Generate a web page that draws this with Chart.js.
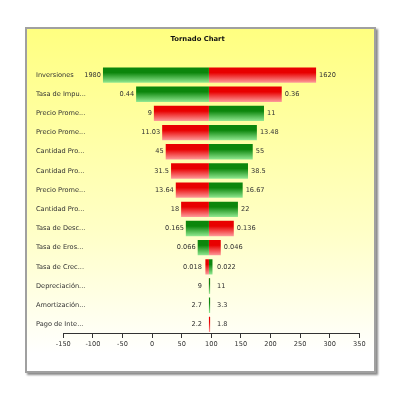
<!DOCTYPE html>
<html>
<head>
<meta charset="utf-8">
<script src="https://cdn.jsdelivr.net/npm/chart.js@4"></script>
<style>
  body { margin: 0; background: #fff; }
  #panel {
    position: absolute; left: 25px; top: 27px;
    width: 347px; height: 342px;
    border: 2px solid #a0a0a0;
    box-shadow: 2px 2px 2px #8a8a8a;
    background: linear-gradient(#ffff80 0%, #ffffc8 60%, #ffffff 95%);
  }
  canvas { display: block; }
</style>
</head>
<body>
<div id="panel"><canvas id="tornado" width="347" height="342"></canvas></div>
<script>
// Tornado chart data
const categories = ['Inversiones', 'Tasa de Impu...', 'Precio Prome...', 'Precio Prome...',
    'Cantidad Pro...', 'Cantidad Pro...', 'Precio Prome...', 'Cantidad Pro...',
    'Tasa de Desc...', 'Tasa de Eros...', 'Tasa de Crec...', 'Depreciación...',
    'Amortización...', 'Pago de Inte...'];
const leftLabels = ['1980', '0.44', '9', '11.03', '45', '31.5', '13.64', '18',
    '0.165', '0.066', '0.018', '9', '2.7', '2.2'];
const rightLabels = ['1620', '0.36', '11', '13.48', '55', '38.5', '16.67', '22',
    '0.136', '0.046', '0.022', '11', '3.3', '1.8'];
const baseValue = 96;
const greenEnds = [-83, -27, 189, 177, 170, 162, 153, 145, 57, 77, 102, 98, 98, 96];
const redEnds = [277, 219, 3, 17, 23, 32, 40, 49, 138, 116, 90, 97.5, 96, 98];
const xTicks = { min: -150, max: 350, step: 50 };

const FONT = '"DejaVu Sans", Verdana, sans-serif';
const yAxisWidth = 27.3;

document.addEventListener('DOMContentLoaded', function() {
    // vertical gradient for each bar, worked out from the row centre
    function barFill(top, bottom) {
        return function(ctx) {
            const chart = ctx.chart;
            const yScale = chart.scales.y;
            if (!yScale || ctx.dataIndex === undefined) return top;
            const c = yScale.getPixelForValue(ctx.dataIndex);
            if (!isFinite(c)) return top;
            const g = chart.ctx.createLinearGradient(0, c - 8, 0, c + 8);
            g.addColorStop(0, top);
            g.addColorStop(0.35, top);
            g.addColorStop(1, bottom);
            return g;
        };
    }

    const valueLabels = {
        id: 'valueLabels',
        afterDatasetsDraw(chart) {
            const ctx = chart.ctx;
            const center = chart.scales.x.getPixelForValue(baseValue);
            const m0 = chart.getDatasetMeta(0).data;
            const m1 = chart.getDatasetMeta(1).data;
            ctx.save();
            ctx.font = '6.6px ' + FONT;
            ctx.fillStyle = '#333';
            ctx.textBaseline = 'middle';
            categories.forEach((c, i) => {
                const a = m0[i], b = m1[i];
                const left = Math.min(a.x, a.base, b.x, b.base);
                const right = Math.max(a.x, a.base, b.x, b.base);
                ctx.textAlign = 'right';
                ctx.fillText(leftLabels[i], Math.min(left, center - 5) - 2, a.y);
                ctx.textAlign = 'left';
                ctx.fillText(rightLabels[i], Math.max(right, center + 5) + 3, a.y);
            });
            ctx.restore();
        }
    };

    new Chart(document.getElementById('tornado'), {
        type: 'bar',
        data: {
            labels: categories,
            datasets: [{
                label: 'Alto',
                data: greenEnds.map(v => [baseValue, v]),
                backgroundColor: barFill('#0c860c', '#96ec96'),
                grouped: false,
                borderWidth: 0,
                borderSkipped: false
            }, {
                label: 'Bajo',
                data: redEnds.map(v => [baseValue, v]),
                backgroundColor: barFill('#e80000', '#ffa0a0'),
                grouped: false,
                borderWidth: 0,
                borderSkipped: false
            }]
        },
        options: {
            indexAxis: 'y',
            responsive: false,
            animation: false,
            layout: { padding: { left: 9, right: 14.7, top: 0, bottom: 0 } },
            datasets: { bar: { categoryPercentage: 1, barPercentage: 0.8 } },
            plugins: {
                legend: { display: false },
                tooltip: { enabled: false },
                title: {
                    display: true,
                    text: 'Tornado Chart',
                    color: '#111',
                    font: { family: FONT, size: 6.8, weight: 'bold' },
                    padding: { top: 6, bottom: 22.3 }
                }
            },
            scales: {
                x: {
                    min: xTicks.min,
                    max: xTicks.max,
                    grid: { display: true, drawOnChartArea: false, drawTicks: true, tickLength: 4, color: '#333' },
                    border: { display: true, color: '#333', width: 1 },
                    ticks: {
                        stepSize: xTicks.step,
                        color: '#333',
                        padding: 2,
                        font: { family: FONT, size: 6.6 }
                    },
                    afterFit: function(scale) { scale.height = 37; }
                },
                y: {
                    grid: { display: false },
                    border: { display: false },
                    ticks: {
                        mirror: true,
                        crossAlign: 'near',
                        padding: -yAxisWidth,
                        color: '#333',
                        autoSkip: false,
                        font: { family: FONT, size: 6.6 }
                    },
                    afterFit: function(scale) { scale.width = yAxisWidth; }
                }
            }
        },
        plugins: [valueLabels]
    });
});
</script>
</body>
</html>
